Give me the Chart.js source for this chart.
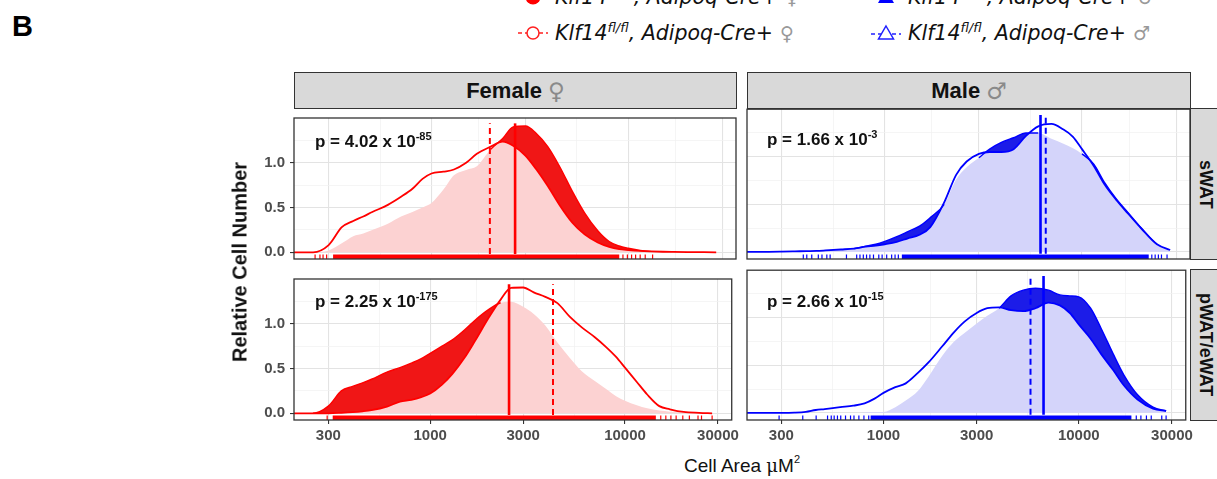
<!DOCTYPE html>
<html><head><meta charset="utf-8">
<script src="https://cdn.jsdelivr.net/npm/chart.js@4.4.1/dist/chart.umd.min.js"></script>
<style>
html,body{margin:0;padding:0;background:#fff;}
body{width:1217px;height:479px;position:relative;overflow:hidden;font-family:"Liberation Sans",Arial,sans-serif;}
canvas{position:absolute;}
.strip{position:absolute;background:#d9d9d9;border:1.3px solid #333;box-sizing:border-box;display:flex;align-items:center;justify-content:center;font-weight:bold;font-size:22px;color:#111;}
.vstrip{position:absolute;background:#d9d9d9;border:1.3px solid #333;box-sizing:border-box;display:flex;align-items:center;justify-content:flex-start;padding-left:4px;font-weight:bold;font-size:18px;color:#111;}
.vstrip span{writing-mode:vertical-rl;}
.sym{color:#8a8a8a;font-weight:normal;font-family:"DejaVu Sans",sans-serif;margin-left:6px;font-size:23px;}
.pv{position:absolute;font-weight:bold;font-size:17px;color:#111;white-space:nowrap;line-height:18px;}
.pv sup{font-size:11px;vertical-align:7px;line-height:0;}
.leg{position:absolute;display:flex;align-items:center;height:24px;white-space:nowrap;font-family:"DejaVu Sans",sans-serif;font-size:20.5px;color:#111;}
.leg i sup{font-size:13px;vertical-align:8px;line-height:0;}
.leg .lsym{color:#999;font-style:normal;margin-left:7px;font-size:19px;}
</style></head>
<body>
<div style="position:absolute;left:12px;top:10px;font-weight:bold;font-size:29px;color:#000;">B</div>

<div class="leg" style="left:516px;top:-15px;"><svg width="34" height="24"><line x1="2" y1="12" x2="32" y2="12" stroke="#ff0000" stroke-width="2"/><circle cx="17" cy="12" r="7.5" fill="#ff0000"/></svg><span style="margin-left:5px"><i>Klf14<sup>+/+</sup>, Adipoq-Cre+</i></span><span class="lsym">♀</span></div>
<div class="leg" style="left:516px;top:21px;"><svg width="34" height="24"><line x1="2" y1="12" x2="32" y2="12" stroke="#ff2020" stroke-width="1.6" stroke-dasharray="4,3"/><circle cx="17" cy="12" r="6" fill="#fff" stroke="#ff2020" stroke-width="1.5"/></svg><span style="margin-left:5px"><i>Klf14<sup>fl/fl</sup>, Adipoq-Cre+</i></span><span class="lsym">♀</span></div>
<div class="leg" style="left:869px;top:-15px;"><svg width="34" height="24"><line x1="2" y1="12" x2="32" y2="12" stroke="#0000ff" stroke-width="2"/><polygon points="17,4 25,18 9,18" fill="#0000ff"/></svg><span style="margin-left:5px"><i>Klf14<sup>+/+</sup>, Adipoq-Cre+</i></span><span class="lsym">♂</span></div>
<div class="leg" style="left:869px;top:21px;"><svg width="34" height="24"><line x1="2" y1="13" x2="32" y2="13" stroke="#2020ff" stroke-width="1.6" stroke-dasharray="4,3"/><polygon points="17,5 24.5,18 9.5,18" fill="#fff" stroke="#2020ff" stroke-width="1.5"/></svg><span style="margin-left:5px"><i>Klf14<sup>fl/fl</sup>, Adipoq-Cre+</i></span><span class="lsym">♂</span></div>

<div class="strip" style="left:294px;top:72px;width:443px;height:37px;"><span>Female</span><span class="sym">♀</span></div>
<div class="strip" style="left:747px;top:72px;width:444px;height:37px;"><span>Male</span><span class="sym">♂</span></div>
<div class="vstrip" style="left:1190px;top:108px;width:40px;height:152px;"><span>sWAT</span></div>
<div class="vstrip" style="left:1190px;top:269px;width:40px;height:152px;"><span>pWAT/eWAT</span></div>

<canvas id="c_fs" width="498" height="181" style="left:244px;top:104px;"></canvas>
<canvas id="c_ms" width="499" height="181" style="left:697px;top:104px;"></canvas>
<canvas id="c_fp" width="498" height="181" style="left:244px;top:265px;"></canvas>
<canvas id="c_mp" width="499" height="181" style="left:697px;top:265px;"></canvas>

<div class="pv" style="left:315px;top:133px;">p = 4.02 x 10<sup>-85</sup></div>
<div class="pv" style="left:767px;top:131px;">p = 1.66 x 10<sup>-3</sup></div>
<div class="pv" style="left:315px;top:293px;">p = 2.25 x 10<sup>-175</sup></div>
<div class="pv" style="left:767px;top:293px;">p = 2.66 x 10<sup>-15</sup></div>

<div style="position:absolute;left:240px;top:262px;transform:translate(-50%,-50%) rotate(-90deg);font-weight:bold;font-size:20px;color:#111;white-space:nowrap;">Relative Cell Number</div>
<div style="position:absolute;left:742px;top:466px;transform:translate(-50%,-50%);font-size:19px;color:#111;white-space:nowrap;">Cell Area <span style="font-family:'DejaVu Serif',serif;font-size:18px;">μ</span>M<sup style="font-size:11px;vertical-align:9px;line-height:0;">2</sup></div>

<script>
// ---- data ----
const cellArea = [200, 250, 300, 350, 400, 450, 500, 600, 700, 800, 900, 1000, 1150, 1300, 1500, 1700, 2000, 2300, 2600, 3000, 3400, 3900, 4500, 5200, 6000, 7000, 8000, 9000, 10000, 11500, 13000, 15000, 17000, 20000, 24000, 28000];

// Female sWAT
const femaleSWAT_WT = [0, 0, 0.02, 0.10, 0.18, 0.21, 0.25, 0.32, 0.40, 0.45, 0.50, 0.55, 0.70, 0.86, 0.92, 0.96, 1.15, 1.27, 1.40, 1.41, 1.33, 1.18, 0.95, 0.68, 0.44, 0.24, 0.12, 0.07, 0.045, 0.02, 0.01, 0.005, 0.002, 0, 0, 0];
const femaleSWAT_KO = [0, 0, 0.08, 0.28, 0.35, 0.40, 0.45, 0.53, 0.62, 0.71, 0.82, 0.88, 0.90, 0.925, 1.00, 1.10, 1.18, 1.235, 1.19, 1.08, 0.93, 0.74, 0.52, 0.33, 0.20, 0.11, 0.06, 0.035, 0.025, 0.015, 0.01, 0.006, 0.004, 0.002, 0.001, 0];
// Female pWAT/eWAT
const femalePWAT_WT = [0, 0, 0.08, 0.25, 0.30, 0.34, 0.38, 0.46, 0.51, 0.56, 0.61, 0.67, 0.75, 0.82, 0.93, 1.04, 1.16, 1.235, 1.245, 1.19, 1.11, 0.98, 0.79, 0.62, 0.47, 0.36, 0.27, 0.19, 0.14, 0.09, 0.055, 0.03, 0.018, 0.008, 0.003, 0];
const femalePWAT_KO = [0, 0, 0, 0.005, 0.012, 0.022, 0.035, 0.075, 0.13, 0.15, 0.18, 0.22, 0.32, 0.44, 0.62, 0.81, 1.07, 1.27, 1.40, 1.405, 1.35, 1.30, 1.23, 1.08, 0.96, 0.85, 0.74, 0.63, 0.51, 0.35, 0.21, 0.08, 0.045, 0.015, 0.005, 0];
// Male sWAT
const maleSWAT_WT = [0, 0, 0, 0.002, 0.005, 0.008, 0.012, 0.02, 0.035, 0.06, 0.08, 0.11, 0.16, 0.21, 0.27, 0.36, 0.50, 0.76, 0.89, 0.99, 1.08, 1.15, 1.20, 1.25, 1.25, 1.19, 1.14, 1.09, 1.03, 0.92, 0.73, 0.55, 0.42, 0.25, 0.08, 0.02];
const maleSWAT_KO = [0, 0, 0.002, 0.005, 0.008, 0.01, 0.015, 0.025, 0.035, 0.055, 0.065, 0.08, 0.105, 0.14, 0.18, 0.26, 0.52, 0.81, 0.95, 1.03, 1.05, 1.05, 1.08, 1.22, 1.32, 1.345, 1.29, 1.21, 1.08, 0.90, 0.71, 0.54, 0.41, 0.245, 0.08, 0.02];
// Male pWAT/eWAT
const malePWAT_WT = [0, 0, 0, 0, 0, 0, 0, 0, 0, 0.005, 0.008, 0.01, 0.06, 0.13, 0.23, 0.38, 0.60, 0.75, 0.84, 0.94, 1.02, 1.10, 1.23, 1.29, 1.31, 1.29, 1.24, 1.23, 1.22, 1.10, 0.89, 0.62, 0.40, 0.19, 0.06, 0.02];
const malePWAT_KO = [0, 0, 0, 0.002, 0.01, 0.03, 0.04, 0.06, 0.075, 0.10, 0.15, 0.21, 0.27, 0.31, 0.42, 0.53, 0.70, 0.85, 0.96, 1.05, 1.10, 1.11, 1.08, 1.07, 1.10, 1.16, 1.13, 1.05, 0.93, 0.78, 0.62, 0.45, 0.29, 0.14, 0.045, 0.02];

// medians (vertical lines): [WT solid, KO dashed]
const medianFemaleSWAT = [2660, 1980];
const medianFemalePWAT = [2540, 4270];
const medianMaleSWAT = [6160, 6550];
const medianMalePWAT = [6600, 5660];

// rug: dense band [from, to] and sparse individual ticks
const rugBandFemaleSWAT = [316, 9000];
const rugTicksFemaleSWAT = [256, 271, 281, 293, 9400, 9900, 10400, 10900, 11500, 12200, 13300];
const rugBandFemalePWAT = [316, 14400];
const rugTicksFemalePWAT = [296, 15260, 16200, 17200, 18300, 19800, 21400, 23700, 24700, 28000];
const rugBandMaleSWAT = [1220, 21800];
const rugTicksMaleSWAT = [386, 402, 426, 460, 480, 508, 528, 639, 720, 748, 778, 808, 840, 876, 932, 969, 1022, 1083, 1127, 1171, 22600, 23500, 24400, 25300, 27000];
const rugBandMalePWAT = [859, 18600];
const rugTicksMalePWAT = [292, 386, 452, 517, 540, 559, 581, 604, 639, 678, 706, 748, 794, 840, 19700, 20800, 22200, 23500, 26600, 28000];

// axes
const xMajorTicks = [300, 1000, 3000, 10000, 30000];
const yMajorTicks = [0, 0.5, 1.0];
const X_MIN = 200, X_MAX = 35300, Y_MIN = -0.075, Y_MAX = 1.5;

// ---- rendering ----
const xMinor = [];
for (let i = 0; i < xMajorTicks.length - 1; i++) xMinor.push(Math.sqrt(xMajorTicks[i] * xMajorTicks[i + 1]));
const xAll = xMajorTicks.concat(xMinor).sort((a, b) => a - b);
const yAll = [0, 0.25, 0.5, 0.75, 1.0, 1.25];
const isMajX = v => xMajorTicks.some(m => Math.abs(m - v) < 1e-6);
const isMajY = v => yMajorTicks.some(m => Math.abs(m - v) < 1e-6);
const RUG_Y = -0.051;

const borderPlugin = {
  id: 'panelBorder',
  afterDraw(chart) {
    const {ctx, chartArea: a} = chart;
    ctx.save(); ctx.strokeStyle = '#333'; ctx.lineWidth = 1.3;
    ctx.strokeRect(a.left, a.top, a.right - a.left, a.bottom - a.top);
    ctx.restore();
  }
};

const tickFont = {family: '"Liberation Sans", Arial, sans-serif', size: 15, weight: 'bold'};

function panel(id, wt, ko, med, band, rugTicks, pal, showX, showY) {
  const pts = arr => cellArea.map((x, i) => ({x, y: arr[i]}));
  const datasets = [
    { // WT light fill
      data: pts(wt), borderWidth: 0, pointRadius: 0, backgroundColor: pal.light,
      fill: 'origin', cubicInterpolationMode: 'monotone', order: 5
    },
    { // WT edge + dark ribbon where WT exceeds KO
      data: pts(wt), borderWidth: 1.4, pointRadius: 0, cubicInterpolationMode: 'monotone',
      segment: {borderColor: c => (wt[c.p0DataIndex] > ko[c.p0DataIndex] + 0.003 || wt[c.p1DataIndex] > ko[c.p1DataIndex] + 0.003) ? pal.line : 'rgba(0,0,0,0)'},
      fill: {target: 2, above: pal.dark, below: 'rgba(0,0,0,0)'}, order: 4
    },
    { // KO line
      data: pts(ko), borderColor: pal.line, borderWidth: 1.8, pointRadius: 0,
      fill: false, cubicInterpolationMode: 'monotone', order: 3
    },
    { // WT median solid
      data: [{x: med[0], y: -0.02}, {x: med[0], y: 1.44}], borderColor: pal.line, borderWidth: 2.6,
      pointRadius: 0, fill: false, order: 2
    },
    { // KO median dashed
      data: [{x: med[1], y: -0.02}, {x: med[1], y: 1.44}], borderColor: pal.line, borderWidth: 2,
      borderDash: [6, 4], pointRadius: 0, fill: false, order: 2
    },
    { // rug band
      data: [{x: band[0], y: RUG_Y}, {x: band[1], y: RUG_Y}], borderColor: pal.line, borderWidth: 4.5,
      pointRadius: 0, fill: false, order: 1
    },
    { // rug ticks
      data: rugTicks.map(x => ({x, y: RUG_Y})), showLine: false, pointStyle: 'line', rotation: 90,
      pointRadius: 2.3, borderColor: pal.line, borderWidth: 1.2, order: 1
    }
  ];
  new Chart(document.getElementById(id), {
    type: 'line',
    data: {datasets},
    options: {
      responsive: false, animation: false, events: [],
      layout: {padding: {left: 0, top: 4, right: 6, bottom: 0}},
      plugins: {legend: {display: false}, tooltip: {enabled: false}},
      scales: {
        x: {
          type: 'logarithmic', min: X_MIN, max: X_MAX,
          afterBuildTicks: ax => { ax.ticks = xAll.map(v => ({value: v})); },
          afterFit: s => { s.height = 26; },
          border: {display: false},
          grid: {
            color: c => isMajX(c.tick.value) ? '#e3e3e3' : '#f1f1f1',
            lineWidth: c => isMajX(c.tick.value) ? 1.1 : 0.7,
            drawTicks: showX, tickLength: 4,
            tickColor: c => isMajX(c.tick.value) ? '#333' : 'rgba(0,0,0,0)'
          },
          ticks: {
            display: showX, autoSkip: false, maxRotation: 0, padding: 3,
            font: tickFont, color: '#4d4d4d',
            callback: v => isMajX(v) ? String(v) : ''
          }
        },
        y: {
          type: 'linear', min: Y_MIN, max: Y_MAX,
          afterBuildTicks: ax => { ax.ticks = yAll.map(v => ({value: v})); },
          afterFit: s => { s.width = 50; },
          border: {display: false},
          grid: {
            color: c => isMajY(c.tick.value) ? '#e3e3e3' : '#f1f1f1',
            lineWidth: c => isMajY(c.tick.value) ? 1.1 : 0.7,
            drawTicks: showY, tickLength: 4,
            tickColor: c => isMajY(c.tick.value) ? '#333' : 'rgba(0,0,0,0)'
          },
          ticks: {
            display: showY, autoSkip: false, padding: 5,
            font: tickFont, color: '#4d4d4d',
            callback: v => isMajY(v) ? v.toFixed(1) : ''
          }
        }
      }
    },
    plugins: [borderPlugin]
  });
}

const red = {line: '#ff0000', dark: 'rgba(240,22,22,1)', light: 'rgba(252,210,210,1)'};
const blue = {line: '#0000ff', dark: 'rgba(28,28,232,1)', light: 'rgba(212,212,250,1)'};

panel('c_fs', femaleSWAT_WT, femaleSWAT_KO, medianFemaleSWAT, rugBandFemaleSWAT, rugTicksFemaleSWAT, red, false, true);
panel('c_ms', maleSWAT_WT, maleSWAT_KO, medianMaleSWAT, rugBandMaleSWAT, rugTicksMaleSWAT, blue, false, false);
panel('c_fp', femalePWAT_WT, femalePWAT_KO, medianFemalePWAT, rugBandFemalePWAT, rugTicksFemalePWAT, red, true, true);
panel('c_mp', malePWAT_WT, malePWAT_KO, medianMalePWAT, rugBandMalePWAT, rugTicksMalePWAT, blue, true, false);
</script>
</body></html>
